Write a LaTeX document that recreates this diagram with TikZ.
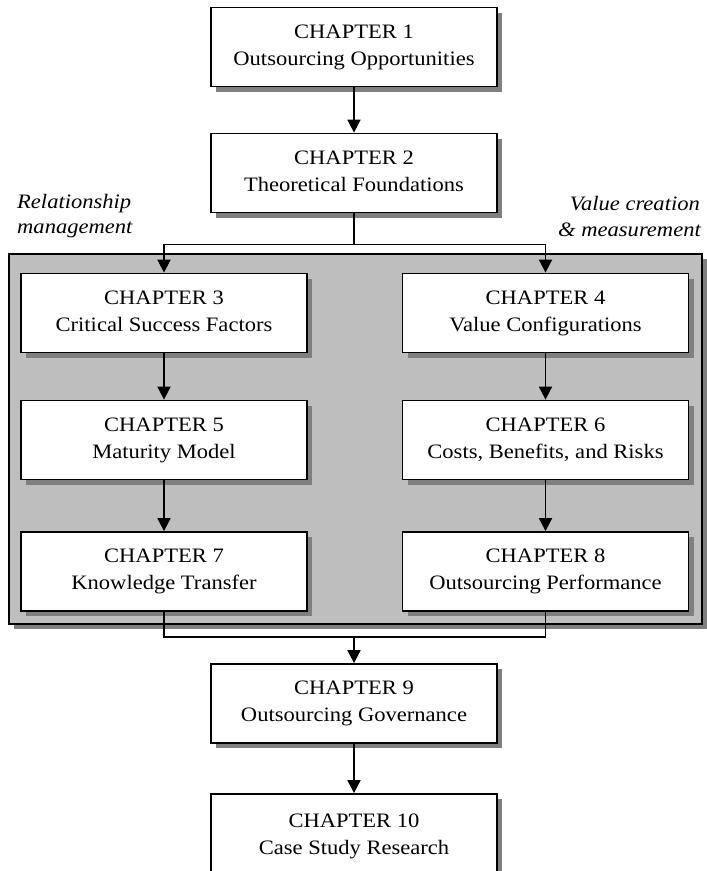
\documentclass[tikz,border=0pt]{standalone}
\usepackage{fontspec}
\setmainfont[FakeStretch=1.1]{Liberation Serif}
\usetikzlibrary{arrows.meta,shadows}
\definecolor{panelgray}{HTML}{BEBEBE}
\definecolor{shadegray}{HTML}{7F7F7F}
\begin{document}
\begin{tikzpicture}[x=1pt,y=-1pt,
  chap/.style={draw, line width=1.8pt, fill=white, inner sep=0pt,
    minimum width=286pt, minimum height=79pt, align=center,
    font=\fontsize{20.5}{27}\selectfont,
    drop shadow={shadow xshift=5pt, shadow yshift=-5pt, fill=shadegray, opacity=1}},
  wire/.style={line width=1.8pt},
  arr/.style={wire, -{Triangle[length=13pt,width=13pt]}},
  side/.style={font=\fontsize{20.5}{25}\selectfont\itshape, inner sep=0pt}]
\useasboundingbox (0,0) rectangle (707,871);

% grey panel behind chapters 3 to 8
\fill[shadegray] (14,259) rectangle (707,629);
\draw[line width=1.8pt, fill=panelgray] (9,254) rectangle (702,624);

% chapter boxes
\node[chap] (c1) at (354,47) {CHAPTER 1\\Outsourcing Opportunities};
\node[chap] (c2) at (354,173) {CHAPTER 2\\Theoretical Foundations\vphantom{g}};
\node[chap] (c3) at (164,313) {CHAPTER 3\\Critical Success Factors\vphantom{g}};
\node[chap] (c4) at (545.5,313) {CHAPTER 4\\Value Configurations};
\node[chap] (c5) at (164,440) {CHAPTER 5\\Maturity Model};
\node[chap] (c6) at (545.5,440) {CHAPTER 6\\Costs, Benefits, and Risks};
\node[chap] (c7) at (164,571.5) {CHAPTER 7\\Knowledge Transfer};
\node[chap] (c8) at (545.5,571.5) {CHAPTER 8\\Outsourcing Performance};
\node[chap] (c9) at (354,703.5) {CHAPTER 9\\Outsourcing Governance};
\node[chap, minimum height=84pt] (c10) at (354,836) {CHAPTER 10\\Case Study Research};

% stream labels
\node[side, anchor=base west] (lrel) at (17,208) {Relationship};
\node[side, anchor=base west] (lman) at (17,233) {management};
\node[side, anchor=base east] (rval) at (700,210) {Value creation};
\node[side, anchor=base east] (rmea) at (701,236) {\&~measurement};

% connectors
\draw[arr] (c1) -- (c2);
\coordinate (j1) at ([yshift=-31pt]c2.south);
\draw[wire] (c2.south) -- (j1);
\draw[arr] (j1) -| (c3.north);
\draw[arr] (j1) -| (c4.north);
\draw[arr] (c3) -- (c5);
\draw[arr] (c4) -- (c6);
\draw[arr] (c5) -- (c7);
\draw[arr] (c6) -- (c8);
\coordinate (j2) at (354,637);
\draw[wire] (c7.south) |- (j2) -| (c8.south);
\draw[arr] (j2) -- (c9);
\draw[arr] (c9) -- (c10);
\end{tikzpicture}
\end{document}
